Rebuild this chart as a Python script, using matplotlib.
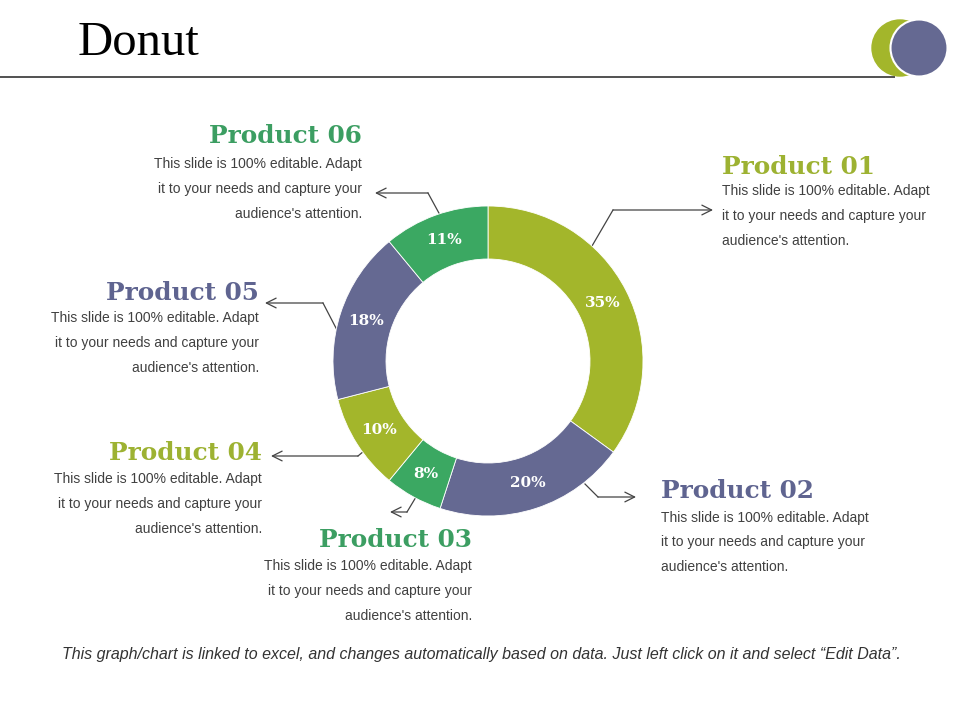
import matplotlib
matplotlib.use("Agg")
import matplotlib.pyplot as plt
from matplotlib.patches import Circle
import numpy as np

# ---- data ----
products = ["Product 01", "Product 02", "Product 03", "Product 04", "Product 05", "Product 06"]
values = [35, 20, 6, 10, 18, 11]          # slice sizes as drawn
pct_labels = ["35%", "20%", "8%", "10%", "18%", "11%"]  # labels as printed
body_lines = ["This slide is 100% editable. Adapt",
              "it to your needs and capture your",
              "audience's attention."]
title = "Donut"
footer = "This graph/chart is linked to excel, and changes automatically based on data. Just left click on it and select \u201cEdit Data\u201d."

OLIVE = "#A3B62B"
PURPLE = "#656992"
GREEN = "#3BA862"
slice_colors = [OLIVE, PURPLE, GREEN, OLIVE, PURPLE, GREEN]
head_colors = ["#9DB232", "#5F6490", "#3C9E62", "#9DB232", "#5F6490", "#3C9E62"]
BODY = "#404040"
LINE = "#444444"

W, H = 960, 720
fig = plt.figure(figsize=(W / 100, H / 100), dpi=100)
fig.patch.set_facecolor("white")

ax = fig.add_axes([0, 0, 1, 1])
ax.set_xlim(0, W)
ax.set_ylim(H, 0)
ax.axis("off")

# title + rule + decorative circles
ax.text(78, 55, title, fontsize=35, family="Liberation Serif", color="black", va="baseline", ha="left")
ax.plot([0, 895], [77, 77], color="#333333", lw=1.2, solid_capstyle="butt")
ax.add_patch(Circle((900, 48), 28, color=OLIVE, zorder=3))
ax.add_patch(Circle((919, 48), 28.5, facecolor=PURPLE, edgecolor="white", lw=1.5, zorder=4))

# ---- donut ----
cx, cy, R, r = 488, 361, 155, 102
pax = fig.add_axes([(cx - R) / W, (H - cy - R) / H, 2 * R / W, 2 * R / H])
wedges, _ = pax.pie(values, colors=slice_colors, startangle=90, counterclock=False,
                    radius=1.0, wedgeprops=dict(width=(R - r) / R, edgecolor="white", linewidth=0.6))
pax.set_xlim(-1, 1)
pax.set_ylim(-1, 1)
pax.axis("off")
mid_r = (1 + r / R) / 2
for w, lab in zip(wedges, pct_labels):
    ang = np.deg2rad((w.theta1 + w.theta2) / 2)
    pax.text(mid_r * np.cos(ang), mid_r * np.sin(ang), lab, ha="center", va="center",
             color="white", fontsize=11, fontweight="bold", family="DejaVu Serif")

# ---- text blocks ----
# (header x, header baseline y, alignment, body line centres)
blocks = [
    (722, 174, "left", [191, 216, 241]),
    (661, 498, "left", [518, 542, 567]),
    (472, 547, "right", [566, 591, 616]),
    (262, 460, "right", [479, 504, 529]),
    (259, 300, "right", [318, 343, 368]),
    (362, 143, "right", [164, 189, 214]),
]
for (x, y, ha, ys), name, col in zip(blocks, products, head_colors):
    ax.text(x, y, name, ha=ha, va="baseline", fontsize=17.8, fontweight="bold",
            family="DejaVu Serif", color=col)
    for ly, line in zip(ys, body_lines):
        ax.text(x, ly, line, ha=ha, va="center", fontsize=10, family="Liberation Sans", color=BODY)

# ---- leader lines ----
leaders = [
    [(592, 246), (613, 210), (713, 210)],
    [(585, 484), (598, 497), (636, 497)],
    [(416, 497), (407, 512), (390, 512)],
    [(364, 451), (358, 456), (271, 456)],
    [(337, 330), (323, 303), (265, 303)],
    [(440, 215), (428, 193), (375, 193)],
]
for pts in leaders:
    xs = [p[0] for p in pts[:-1]]
    ys = [p[1] for p in pts[:-1]]
    ax.plot(xs, ys, color=LINE, lw=0.9)
    ax.annotate("", xy=pts[-1], xytext=pts[-2],
                arrowprops=dict(arrowstyle="->,head_length=0.7,head_width=0.35", color=LINE, lw=0.9,
                                shrinkA=0, shrinkB=0))

# footer
ax.text(481, 655, footer, ha="center", va="center", fontsize=11.5, style="italic",
        family=["Liberation Sans Narrow", "Liberation Sans"], color="#333333")

fig.savefig("out.png", dpi=100, facecolor="white")
